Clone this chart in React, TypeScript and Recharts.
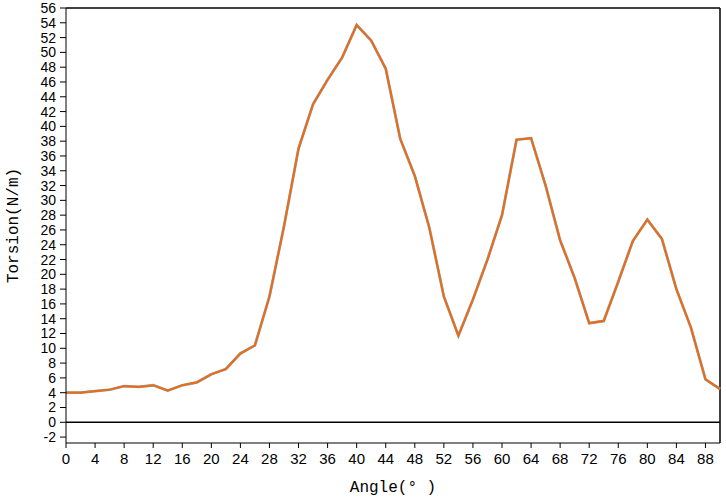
import React from 'react';
import { LineChart, Line, XAxis, YAxis, ReferenceLine, Label } from 'recharts';

// angle (degrees) and torsion (N/m)
const angles = [
	0, 2, 4, 6, 8, 10, 12, 14, 16, 18, 20, 22, 24, 26, 28, 30, 32, 34, 36, 38, 40, 42, 44,
	46, 48, 50, 52, 54, 56, 58, 60, 62, 64, 66, 68, 70, 72, 74, 76, 78, 80, 82, 84, 86, 88, 90,
];
const torsion = [
	4.0, 4.0, 4.2, 4.4, 4.9, 4.8, 5.0, 4.3, 5.0, 5.4, 6.5, 7.2, 9.3, 10.4, 17.0, 26.5, 37.0, 43.0,
	46.3, 49.3, 53.7, 51.6, 47.8, 38.3, 33.3, 26.3, 17.0, 11.7, 16.6, 22.0, 28.0, 38.2, 38.4, 32.0,
	24.6, 19.5, 13.4, 13.7, 19.0, 24.5, 27.4, 24.8, 18.0, 12.8, 5.8, 4.5,
];
const xTicks = [0, 4, 8, 12, 16, 20, 24, 28, 32, 36, 40, 44, 48, 52, 56, 60, 64, 68, 72, 76, 80, 84, 88];
const yTicks = [
	-2, 0, 2, 4, 6, 8, 10, 12, 14, 16, 18, 20, 22, 24, 26, 28, 30, 32, 34, 36, 38, 40, 42, 44, 46,
	48, 50, 52, 54, 56,
];

const data = angles.map((a, i) => ({ angle: a, torsion: torsion[i] }));

const tickFont = { fontFamily: 'Liberation Sans, Arial, sans-serif', fontSize: 14, fill: '#000' };
const labelFont = { fontFamily: 'Liberation Mono, DejaVu Sans Mono, monospace', fontSize: 16, fill: '#000' };

const App: React.FC = () => (
	<div style={{ position: 'absolute', left: 0, top: 0, background: '#fff' }}>
		<LineChart width={726} height={497} data={data} margin={{ top: 8, right: 6, bottom: 0, left: 0 }}>
			<XAxis
				dataKey="angle"
				type="number"
				domain={[0, 90]}
				ticks={xTicks}
				interval={0}
				height={54}
				stroke="#000"
				tickSize={5}
				tick={{ ...tickFont, fontSize: 15, dy: 3 }}
				tickLine={{ stroke: '#000' }}
			>
				<Label value="Angle(° )" position="insideBottom" offset={5} style={labelFont} />
			</XAxis>
			<YAxis
				type="number"
				domain={[-2.8, 56]}
				ticks={yTicks}
				interval={0}
				width={66}
				stroke="#000"
				tickSize={6}
				tick={{ ...tickFont, dx: -2 }}
				tickLine={{ stroke: '#000' }}
			>
				<Label
					value="Torsion(N/m)"
					angle={-90}
					position="insideLeft"
					offset={12}
					style={{ ...labelFont, textAnchor: 'middle' }}
				/>
			</YAxis>
			<ReferenceLine y={0} stroke="#000" strokeWidth={1.5} />
			<ReferenceLine y={56} stroke="#000" strokeWidth={1.5} />
			<ReferenceLine x={90} stroke="#000" strokeWidth={1.5} />
			<Line
				type="linear"
				dataKey="torsion"
				stroke="#6cc0e8"
				strokeWidth={2.8}
				dot={false}
				isAnimationActive={false}
			/>
			<Line
				type="linear"
				dataKey="torsion"
				stroke="#f06a14"
				strokeWidth={2.2}
				dot={false}
				isAnimationActive={false}
			/>
		</LineChart>
	</div>
);

export default App;
